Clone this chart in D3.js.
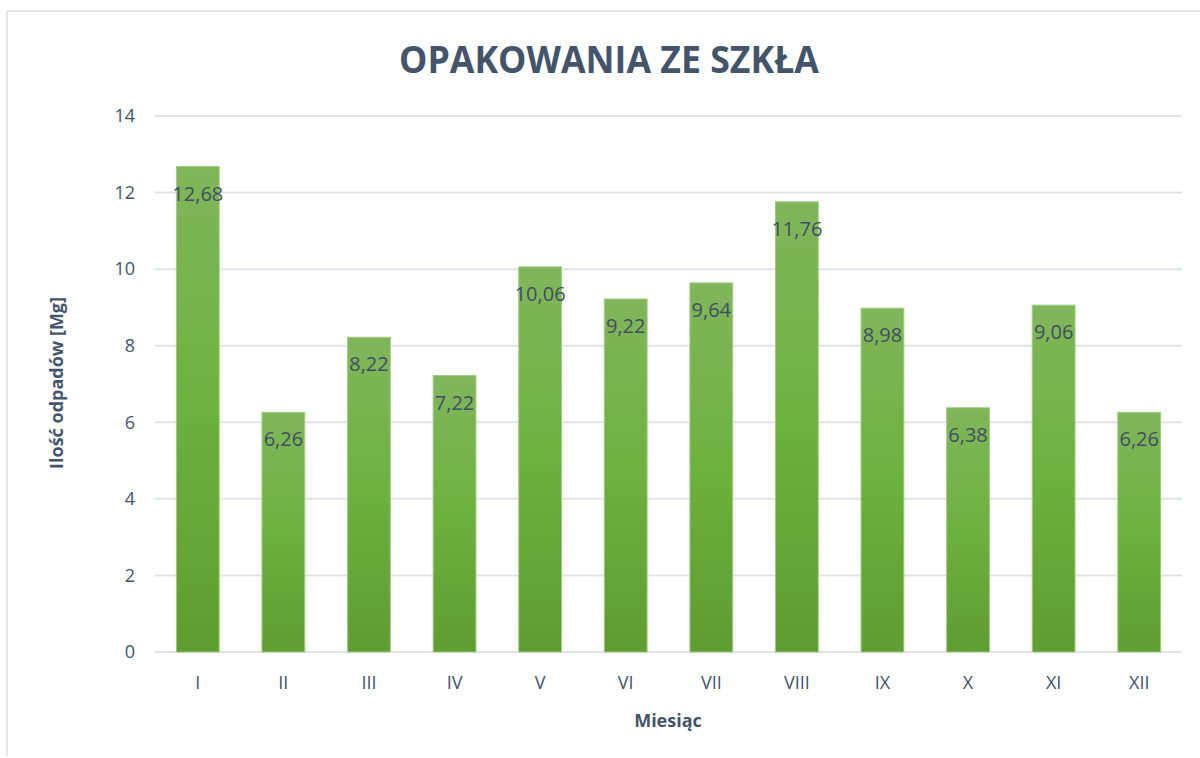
<!DOCTYPE html>
<html>
<head>
<meta charset="utf-8">
<script src="https://cdnjs.cloudflare.com/ajax/libs/d3/7.8.5/d3.min.js"></script>
<style>
  body { margin: 0; background: #fff; }
  text { font-family: "Open Sans", "DejaVu Sans", sans-serif; }
</style>
</head>
<body>
<div id="chart"></div>
<script>
// data
var months = ["I", "II", "III", "IV", "V", "VI", "VII", "VIII", "IX", "X", "XI", "XII"];
var values = [12.68, 6.26, 8.22, 7.22, 10.06, 9.22, 9.64, 11.76, 8.98, 6.38, 9.06, 6.26];
var yTicks = [0, 2, 4, 6, 8, 10, 12, 14];

var width = 1200, height = 758;
var margin = {top: 116, right: 18, bottom: 106, left: 155};
var textCol = "#44546a";

var svg = d3.select("#chart").append("svg")
    .attr("width", width)
    .attr("height", height);

// gradient like the excel fill
var defs = svg.append("defs");
var grad = defs.append("linearGradient").attr("id", "barGrad")
    .attr("x1", 0).attr("y1", 0).attr("x2", 0).attr("y2", 1);
grad.append("stop").attr("offset", "0%").attr("stop-color", "#81b65b");
grad.append("stop").attr("offset", "50%").attr("stop-color", "#6db13f");
grad.append("stop").attr("offset", "100%").attr("stop-color", "#5f9c31");

// frame (top and left edges only visible)
svg.append("line").attr("x1", 7).attr("x2", width).attr("y1", 11).attr("y2", 11)
    .attr("stroke", "#e3e6ea").attr("stroke-width", 2);
svg.append("line").attr("x1", 7).attr("x2", 7).attr("y1", 11).attr("y2", 756)
    .attr("stroke", "#e3e6ea").attr("stroke-width", 2);

var x = d3.scaleBand()
    .domain(months)
    .range([margin.left, width - margin.right])
    .paddingInner(0.5)
    .paddingOuter(0.25);

var y = d3.scaleLinear()
    .domain([0, 14])
    .range([height - margin.bottom, margin.top]);

// grid lines
svg.append("g")
  .selectAll("line")
  .data(yTicks)
  .join("line")
    .attr("x1", margin.left)
    .attr("x2", width - margin.right)
    .attr("y1", function(d) { return y(d); })
    .attr("y2", function(d) { return y(d); })
    .attr("stroke", "#dfe3e8")
    .attr("stroke-width", 2);

// y axis labels
var yAxis = svg.append("g")
    .attr("transform", "translate(" + (margin.left - 20) + ",0)")
    .call(d3.axisLeft(y).tickValues(yTicks).tickSize(0).tickPadding(0));
yAxis.select(".domain").remove();
yAxis.selectAll("text")
    .attr("fill", textCol)
    .style("font-size", "18px")
    .style("font-family", "'Open Sans', sans-serif");

// x axis labels
var xAxis = svg.append("g")
    .attr("transform", "translate(0," + (height - margin.bottom) + ")")
    .call(d3.axisBottom(x).tickSize(0).tickPadding(24));
xAxis.select(".domain").remove();
xAxis.selectAll("text")
    .attr("fill", textCol)
    .style("font-size", "18px")
    .style("font-family", "'Open Sans', sans-serif");

// bars
svg.append("g")
  .selectAll("rect")
  .data(values)
  .join("rect")
    .attr("x", function(d, i) { return x(months[i]); })
    .attr("y", function(d) { return y(d); })
    .attr("width", x.bandwidth())
    .attr("height", function(d) { return y(0) - y(d); })
    .attr("fill", "url(#barGrad)")
    .attr("stroke", "#9fcc80")
    .attr("stroke-width", 1);

// value labels inside the top of the bar
svg.append("g")
  .selectAll("text")
  .data(values)
  .join("text")
    .attr("x", function(d, i) { return x(months[i]) + x.bandwidth() / 2; })
    .attr("y", function(d) { return y(d) + 34; })
    .attr("text-anchor", "middle")
    .attr("fill", "#404f63")
    .style("font-size", "20px")
    .text(function(d) { return d.toFixed(2).replace(".", ","); });

// title
svg.append("text")
    .attr("x", 609)
    .attr("y", 73)
    .attr("text-anchor", "middle")
    .attr("fill", textCol)
    .attr("textLength", 420)
    .attr("lengthAdjust", "spacingAndGlyphs")
    .style("font-size", "37px")
    .style("font-weight", "bold")
    .text("OPAKOWANIA ZE SZKŁA");

// axis titles
svg.append("text")
    .attr("transform", "translate(63,383) rotate(-90)")
    .attr("text-anchor", "middle")
    .attr("fill", textCol)
    .style("font-size", "18px")
    .style("font-weight", "bold")
    .text("Ilość odpadów [Mg]");

svg.append("text")
    .attr("x", 668)
    .attr("y", 727)
    .attr("text-anchor", "middle")
    .attr("fill", textCol)
    .style("font-size", "18px")
    .style("font-weight", "bold")
    .text("Miesiąc");
</script>
</body>
</html>
